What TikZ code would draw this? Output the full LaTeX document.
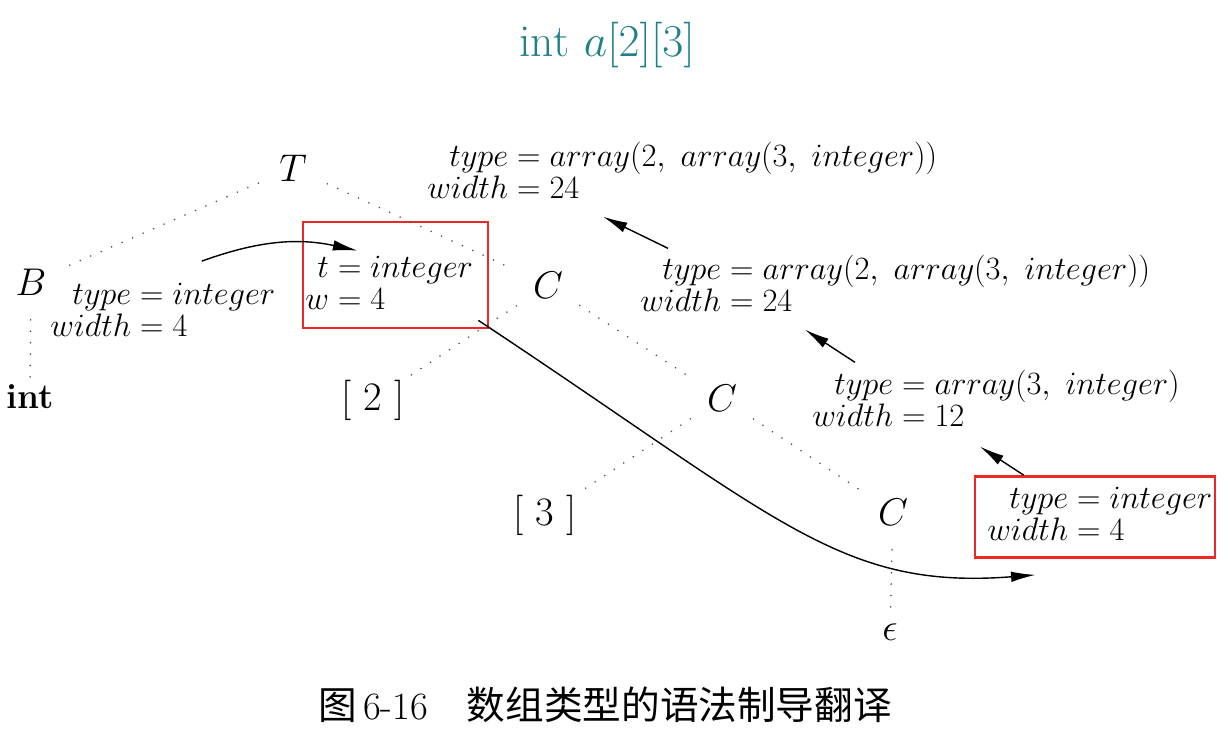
\RequirePackage{fix-cm}
\documentclass[tikz,border=0pt]{standalone}
\usepackage{amsmath}
\usepackage{xcolor}
\usepackage{fontspec}
\newfontfamily\cjk{Noto Sans CJK SC}
\usepackage{tikz}
\usetikzlibrary{arrows.meta, positioning, calc}

\definecolor{boxred}{RGB}{236,40,36}
\definecolor{titleteal}{RGB}{32,128,138}

\newcommand{\attrpair}[4]{$\begin{array}{@{}r@{{}={}}l@{}} #1 & #2\\ #3 & #4\end{array}$}

\begin{document}
\begin{tikzpicture}[
    x=0.02cm, y=-0.02cm,
    nonterm/.style={circle, inner sep=0pt, minimum size=1.5cm, font=\fontsize{22}{24}\selectfont},
    leaf/.style={inner sep=3pt, font=\fontsize{20}{22}\selectfont},
    attr/.style={anchor=west, inner sep=0pt, font=\fontsize{18.5}{18.5}\selectfont},
    redbox/.style={draw=boxred, line width=1.6pt, rectangle},
    treeedge/.style={line width=1pt, gray!60!black, dash pattern=on 0pt off 6.5pt, line cap=round},
    arrow/.style={line width=0.8pt, -{Latex[length=14pt, width=6pt]}}
]
\useasboundingbox (0,0) rectangle (1230,736);

\node[font=\fontsize{26}{28}\selectfont, text=titleteal] (title) at (607,45) {$\mathrm{int}\ a[2][3]$};

\node[nonterm] (T) at (293,168) {$T$};
\node[nonterm] (B) at (31,282) {$B$};
\node[leaf, font=\fontsize{20}{22}\selectfont\bfseries] (int) at (30,397) {int};
\node[nonterm] (C1) at (548,285) {$C$};
\node[nonterm, font=\fontsize{23}{25}\selectfont] (d2) at (373,400) {[ 2 ]};
\node[nonterm] (C2) at (722,398) {$C$};
\node[nonterm, font=\fontsize{23}{25}\selectfont] (d3) at (545,515) {[ 3 ]};
\node[nonterm] (C3) at (893,512) {$C$};
\node[leaf, inner sep=5pt, font=\fontsize{22}{24}\selectfont] (eps) at (890,632) {$\epsilon$};

\node[attr] (aT) at (427,175) {\attrpair{type}{array(2,\ array(3,\ integer))}{width}{24}};
\node[attr] (aB) at (50,314) {\attrpair{type}{integer}{width}{4}};
\node[attr] (aTi) at (305,287) {\attrpair{t}{integer}{w}{4}};
\node[attr] (aC1) at (640,288) {\attrpair{type}{array(2,\ array(3,\ integer))}{width}{24}};
\node[attr] (aC2) at (812,403) {\attrpair{type}{array(3,\ integer)}{width}{12}};
\node[attr] (aC3) at (987,518) {\attrpair{type}{integer}{width}{4}};

\node[redbox, minimum width=3.7cm, minimum height=2.12cm] (box1) at (395.5,275) {};
\node[redbox, minimum width=4.8cm, minimum height=1.62cm] (box2) at (1095,517) {};

\draw[treeedge] (T) -- (B);
\draw[treeedge] (T) -- (C1);
\draw[treeedge] (B) -- (int);
\draw[treeedge] (C1) -- (d2);
\draw[treeedge] (C1) -- (C2);
\draw[treeedge] (C2) -- (d3);
\draw[treeedge] (C2) -- (C3);
\draw[treeedge] (C3) -- (eps);

\draw[arrow] ($(aB.north)+(39,-20)$) to[bend left=16] ($(box1.north)+(-38,30)$);
\draw[arrow] ($(aC1.north west)+(28,-6)$) -- ($(aT.south west)+(176,8)$);
\draw[arrow] ($(aC2.north west)+(43,-7)$) -- ($(aC1.south west)+(165,8)$);
\draw[arrow] ($(box2.north west)+(50,0)$) -- ($(aC2.south west)+(168,10)$);
\draw[arrow] ($(box1.south east)+(-11,-9)$) .. controls (780,520) and (840,590) .. ($(box2.south west)+(62,16)$);

\node[font=\fontsize{22}{24}\selectfont] (caption) at (605,705) {{\cjk 图}\,6-16\hspace{1em}{\cjk 数组类型的语法制导翻译}};
\end{tikzpicture}
\end{document}
